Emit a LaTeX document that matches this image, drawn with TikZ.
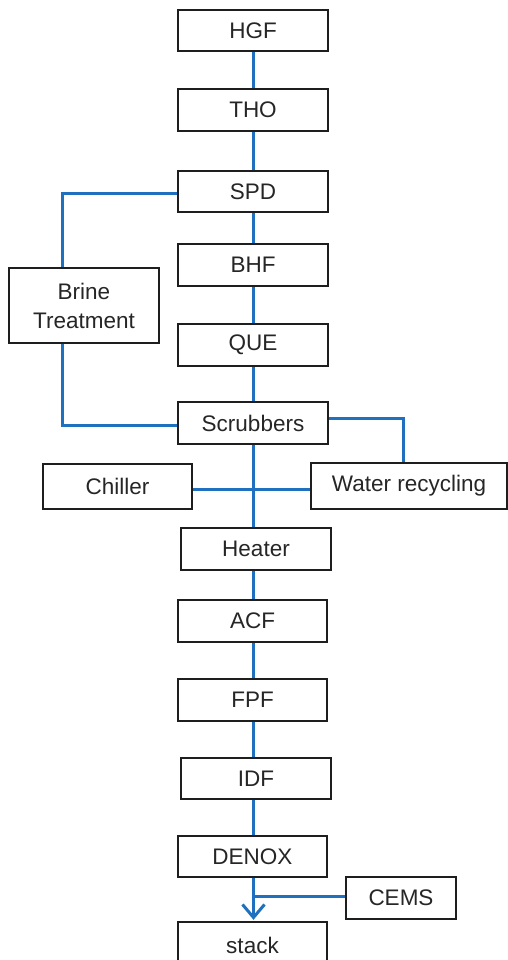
\documentclass[tikz,border=0pt]{standalone}
\usepackage{fontspec}
\setmainfont{Liberation Sans}
\usetikzlibrary{arrows.meta}
\definecolor{flowblue}{RGB}{31,112,190}
\definecolor{boxline}{RGB}{30,30,30}
\begin{document}
\begin{tikzpicture}[x=1pt,y=-1pt,
  unit/.style={draw=boxline,line width=2.4pt,inner sep=0pt,align=center,
    font=\fontsize{22.5}{29}\selectfont,text=black!85},
  pipe/.style={draw=flowblue,line width=3pt}]
\useasboundingbox (0,0) rectangle (508,960);
\fill[white] (0,0) rectangle (508,960);
\node[unit,minimum width=150pt,minimum height=41pt] (HGF) at (253,30.5) {HGF};
\node[unit,minimum width=150pt,minimum height=42pt] (THO) at (253,110) {THO};
\node[unit,minimum width=150pt,minimum height=41pt] (SPD) at (253,191.5) {SPD};
\node[unit,minimum width=150pt,minimum height=42pt] (BHF) at (253,265) {BHF};
\node[unit,minimum width=150pt,minimum height=42pt] (QUE) at (253,345) {QUE};
\node[unit,minimum width=150pt,minimum height=42pt] (Scr) at (253,423) {Scrubbers};
\node[unit,minimum width=150pt,minimum height=75pt] (Brine) at (84,305.5) {Brine\\Treatment};
\node[unit,minimum width=149pt,minimum height=45pt] (Chiller) at (117.5,486.5) {Chiller};
\node[unit,minimum width=196pt,minimum height=46pt] (Water) at (409,486) {Water recycling};
\node[unit,minimum width=150pt,minimum height=42pt] (Heater) at (256,549) {Heater};
\node[unit,minimum width=149pt,minimum height=42pt] (ACF) at (252.5,621) {ACF};
\node[unit,minimum width=149pt,minimum height=42pt] (FPF) at (252.5,700) {FPF};
\node[unit,minimum width=150pt,minimum height=41pt] (IDF) at (256,778.5) {IDF};
\node[unit,minimum width=149pt,minimum height=41pt] (DENOX) at (252.5,856.5) {DENOX};
\node[unit,minimum width=110pt,minimum height=42pt] (CEMS) at (401,898) {CEMS};
\node[unit,minimum width=149pt,minimum height=46pt] (stack) at (252.5,945) {stack};
\coordinate (sp) at (253.5,0);
\coordinate (bx) at (62,0);
\coordinate (wx) at (403,0);
\draw[pipe] (HGF.south -| sp) -- (THO.north -| sp);
\draw[pipe] (THO.south -| sp) -- (SPD.north -| sp);
\draw[pipe] (SPD.south -| sp) -- (BHF.north -| sp);
\draw[pipe] (BHF.south -| sp) -- (QUE.north -| sp);
\draw[pipe] (QUE.south -| sp) -- (Scr.north -| sp);
\draw[pipe] (Scr.south -| sp) -- (Heater.north -| sp);
\draw[pipe] (Heater.south -| sp) -- (ACF.north -| sp);
\draw[pipe] (ACF.south -| sp) -- (FPF.north -| sp);
\draw[pipe] (FPF.south -| sp) -- (IDF.north -| sp);
\draw[pipe] (IDF.south -| sp) -- (DENOX.north -| sp);
\draw[pipe,-{Straight Barb[length=13pt,width=22pt,line width=3pt]}] (DENOX.south -| sp) -- ([yshift=1pt]stack.north -| sp);
\draw[pipe] ([yshift=2pt]CEMS.west) -- ([yshift=2pt]CEMS.west -| sp);
\draw[pipe] ([yshift=-1.5pt]SPD.west) -| (Brine.north -| bx);
\draw[pipe] (Brine.south -| bx) |- ([yshift=-2pt]Scr.west);
\draw[pipe] ([yshift=5pt]Scr.east) -| (Water.north -| wx);
\draw[pipe] ([yshift=-2.5pt]Chiller.east) -- ([yshift=-2.5pt]Chiller.east -| Water.west);
\end{tikzpicture}
\end{document}
